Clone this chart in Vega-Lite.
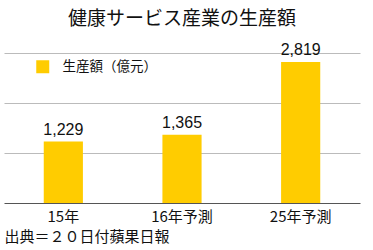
{
  "$schema": "https://vega.github.io/schema/vega-lite/v6.json",
  "width": 356,
  "height": 150,
  "autosize": {"type": "none"},
  "padding": {"left": 4, "top": 53, "right": 13, "bottom": 47},
  "background": "white",
  "config": {
    "view": {"stroke": null},
    "font": "Noto Sans CJK JP"
  },
  "title": {
    "text": "健康サービス産業の生産額",
    "fontSize": 19,
    "fontWeight": "normal",
    "color": "#111",
    "anchor": "middle",
    "offset": 13
  },
  "data": {
    "values": [
      {"year": "15年", "value": 1229, "series": "生産額（億元）"},
      {"year": "16年予測", "value": 1365, "series": "生産額（億元）"},
      {"year": "25年予測", "value": 2819, "series": "生産額（億元）"}
    ]
  },
  "encoding": {
    "x": {
      "field": "year",
      "type": "nominal",
      "sort": null,
      "scale": {"paddingInner": 0.67, "paddingOuter": 0.335},
      "axis": {
        "title": "出典＝２０日付蘋果日報",
        "titleAnchor": "start",
        "titleAlign": "left",
        "titleFontSize": 15,
        "titleFontWeight": "normal",
        "titleColor": "#111",
        "titlePadding": 5,
        "labelAngle": 0,
        "labelFontSize": 15,
        "labelColor": "#111",
        "labelPadding": 6,
        "ticks": false,
        "domainColor": "#555",
        "domainWidth": 1
      }
    },
    "y": {
      "field": "value",
      "type": "quantitative",
      "scale": {"domain": [0, 3000]},
      "axis": {
        "title": null,
        "labels": false,
        "ticks": false,
        "domain": false,
        "values": [1000, 2000, 3000],
        "gridColor": "#bbbbbb",
        "gridWidth": 1
      }
    }
  },
  "layer": [
    {
      "mark": {"type": "bar", "color": "#FFCC00"},
      "encoding": {
        "color": {
          "field": "series",
          "type": "nominal",
          "scale": {"range": ["#FFCC00"]},
          "legend": {
            "title": null,
            "orient": "none",
            "legendX": 32,
            "legendY": 7,
            "symbolType": "square",
            "symbolSize": 169,
            "symbolStrokeWidth": 0,
            "symbolOpacity": 1,
            "labelFontSize": 13.5,
            "labelColor": "#111",
            "labelOffset": 13
          }
        }
      }
    },
    {
      "mark": {"type": "text", "baseline": "alphabetic", "dy": -7, "fontSize": 16, "color": "#111", "font": "Liberation Sans"},
      "encoding": {
        "text": {"field": "value", "type": "quantitative", "format": ","}
      }
    }
  ]
}
